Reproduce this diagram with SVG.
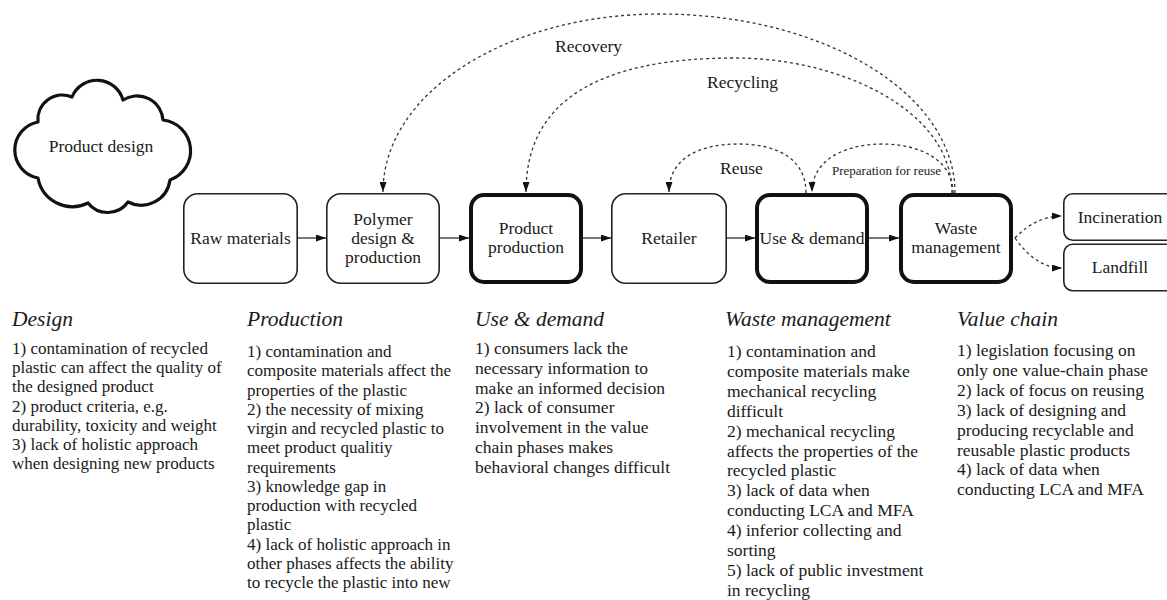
<svg xmlns="http://www.w3.org/2000/svg" width="1167" height="600" viewBox="0 0 1167 600" font-family="Liberation Serif">
<style>
  text { font-family: 'Liberation Serif', 'Times New Roman', serif; fill: #1a1a1a; }
  .lbl { font-size: 17.5px; text-anchor: middle; }
  .small { font-size: 13px; }
  .arclbl { font-size: 17.5px; }
  .title { font-size: 21.5px; font-style: italic; }
  .body { font-size: 17px; }
  .body2 { font-size: 17.5px; }
  .box { fill: #ffffff; stroke: #222; stroke-width: 1.6; }
  .thick { fill: #ffffff; stroke: #111; stroke-width: 4; }
  .flow { fill: none; stroke: #555; stroke-width: 1.6; }
  .dot { fill: none; stroke: #333; stroke-width: 1.3; stroke-dasharray: 3 3; }
</style>
<defs>
  <marker id="ah" viewBox="0 0 10 7" refX="10" refY="3.5" markerWidth="10" markerHeight="7" markerUnits="userSpaceOnUse" orient="auto">
    <path d="M0,0 L10,3.5 L0,7 z" fill="#111"/>
  </marker>
</defs>

<g id="product-design">
  <path d="M72,97 A27,27 0 0 1 123,100 A26,26 0 0 1 163,120 A31,31 0 0 1 170,180 A29,29 0 0 1 128,202 A25,25 0 0 1 88,203 A35,35 0 0 1 38,178 A28.5,28.5 0 0 1 38,122 A24.5,24.5 0 0 1 72,97 Z" fill="#fff" stroke="#111" stroke-width="3.2" stroke-linejoin="round"/>
  <text class="lbl" x="101" y="152">Product design</text>
</g>

<g id="connectors">
  <path class="flow" d="M298,238 L326,238" marker-end="url(#ah)"/>
  <path class="flow" d="M440,238 L469,238" marker-end="url(#ah)"/>
  <path class="flow" d="M583,238 L611,238" marker-end="url(#ah)"/>
  <path class="flow" d="M727,238 L755,238" marker-end="url(#ah)"/>
  <path class="flow" d="M869,238 L899,238" marker-end="url(#ah)"/>
  <path class="dot" d="M955,193 C955,93 823,14 660,14 C507,14 383,93 383,192" marker-end="url(#ah)"/>
  <path class="dot" d="M952,193 C952,110 840,58 735,58 C600,58 526,100 526,192" marker-end="url(#ah)"/>
  <path class="dot" d="M806,193 C806,158 776,144 738,144 C700,144 669,158 669,192" marker-end="url(#ah)"/>
  <path class="dot" d="M953,193 C953,160 920,144 882,144 C845,144 812,160 812,192" marker-end="url(#ah)"/>
  <path class="dot" d="M1015,238 Q1036,216 1062,216" marker-end="url(#ah)"/>
  <path class="dot" d="M1015,238 Q1036,268 1062,268" marker-end="url(#ah)"/>
  <text class="arclbl" x="555" y="52">Recovery</text>
  <text class="arclbl" x="707" y="88">Recycling</text>
  <text class="arclbl" x="720" y="174">Reuse</text>
  <text class="small" x="832" y="175">Preparation for reuse</text>
</g>

<g id="raw-materials">
  <rect class="box" x="183.8" y="193.8" width="113.4" height="89.4" rx="14"/>
  <text class="lbl" x="240.5" y="244">Raw materials</text>
</g>
<g id="polymer">
  <rect class="box" x="326.8" y="193.8" width="112.4" height="89.4" rx="14"/>
  <text class="lbl" x="383" y="225">Polymer</text>
  <text class="lbl" x="383" y="244">design &amp;</text>
  <text class="lbl" x="383" y="263">production</text>
</g>
<g id="product-production">
  <rect class="thick" x="471" y="195" width="110" height="87" rx="13"/>
  <text class="lbl" x="526" y="234">Product</text>
  <text class="lbl" x="526" y="253">production</text>
</g>
<g id="retailer">
  <rect class="box" x="611.8" y="193.8" width="114.4" height="89.4" rx="14"/>
  <text class="lbl" x="669" y="244">Retailer</text>
</g>
<g id="use-demand">
  <rect class="thick" x="757" y="195" width="110" height="87" rx="13"/>
  <text class="lbl" x="812" y="244">Use &amp; demand</text>
</g>
<g id="waste-management">
  <rect class="thick" x="901" y="195" width="110" height="87" rx="13"/>
  <text class="lbl" x="956" y="234">Waste</text>
  <text class="lbl" x="956" y="253">management</text>
</g>
<g id="incineration">
  <rect class="box" x="1063.8" y="193.8" width="130" height="46.4" rx="9"/>
  <text class="lbl" x="1120" y="223">Incineration</text>
</g>
<g id="landfill">
  <rect class="box" x="1063.8" y="244.3" width="130" height="46.4" rx="9"/>
  <text class="lbl" x="1120" y="273">Landfill</text>
</g>

<g id="design-notes">
  <text class="title" x="12" y="326">Design</text>
  <text class="body" x="12" y="354">
    <tspan x="12">1) contamination of recycled</tspan>
    <tspan x="12" dy="19.2">plastic can affect the quality of</tspan>
    <tspan x="12" dy="19.2">the designed product</tspan>
    <tspan x="12" dy="19.2">2) product criteria, e.g.</tspan>
    <tspan x="12" dy="19.2">durability, toxicity and weight</tspan>
    <tspan x="12" dy="19.2">3) lack of holistic approach</tspan>
    <tspan x="12" dy="19.2">when designing new products</tspan>
  </text>
</g>
<g id="production-notes">
  <text class="title" x="247" y="326">Production</text>
  <text class="body" x="247" y="357">
    <tspan x="247">1) contamination and</tspan>
    <tspan x="247" dy="19.25">composite materials affect the</tspan>
    <tspan x="247" dy="19.25">properties of the plastic</tspan>
    <tspan x="247" dy="19.25">2) the necessity of mixing</tspan>
    <tspan x="247" dy="19.25">virgin and recycled plastic to</tspan>
    <tspan x="247" dy="19.25">meet product qualitiy</tspan>
    <tspan x="247" dy="19.25">requirements</tspan>
    <tspan x="247" dy="19.25">3) knowledge gap in</tspan>
    <tspan x="247" dy="19.25">production with recycled</tspan>
    <tspan x="247" dy="19.25">plastic</tspan>
    <tspan x="247" dy="19.25">4) lack of holistic approach in</tspan>
    <tspan x="247" dy="19.25">other phases affects the ability</tspan>
    <tspan x="247" dy="19.25">to recycle the plastic into new</tspan>
  </text>
</g>
<g id="use-demand-notes">
  <text class="title" x="475" y="326">Use &amp; demand</text>
  <text class="body2" x="475" y="354">
    <tspan x="475">1) consumers lack the</tspan>
    <tspan x="475" dy="19.8">necessary information to</tspan>
    <tspan x="475" dy="19.8">make an informed decision</tspan>
    <tspan x="475" dy="19.8">2) lack of consumer</tspan>
    <tspan x="475" dy="19.8">involvement in the value</tspan>
    <tspan x="475" dy="19.8">chain phases makes</tspan>
    <tspan x="475" dy="19.8">behavioral changes difficult</tspan>
  </text>
</g>
<g id="waste-management-notes">
  <text class="title" x="725" y="326">Waste management</text>
  <text class="body2" x="727" y="357">
    <tspan x="727">1) contamination and</tspan>
    <tspan x="727" dy="19.9">composite materials make</tspan>
    <tspan x="727" dy="19.9">mechanical recycling</tspan>
    <tspan x="727" dy="19.9">difficult</tspan>
    <tspan x="727" dy="19.9">2) mechanical recycling</tspan>
    <tspan x="727" dy="19.9">affects the properties of the</tspan>
    <tspan x="727" dy="19.9">recycled plastic</tspan>
    <tspan x="727" dy="19.9">3) lack of data when</tspan>
    <tspan x="727" dy="19.9">conducting LCA and MFA</tspan>
    <tspan x="727" dy="19.9">4) inferior collecting and</tspan>
    <tspan x="727" dy="19.9">sorting</tspan>
    <tspan x="727" dy="19.9">5) lack of public investment</tspan>
    <tspan x="727" dy="19.9">in recycling</tspan>
  </text>
</g>
<g id="value-chain-notes">
  <text class="title" x="957" y="326">Value chain</text>
  <text class="body2" x="957" y="356">
    <tspan x="957">1) legislation focusing on</tspan>
    <tspan x="957" dy="19.9">only one value-chain phase</tspan>
    <tspan x="957" dy="19.9">2) lack of focus on reusing</tspan>
    <tspan x="957" dy="19.9">3) lack of designing and</tspan>
    <tspan x="957" dy="19.9">producing recyclable and</tspan>
    <tspan x="957" dy="19.9">reusable plastic products</tspan>
    <tspan x="957" dy="19.9">4) lack of data when</tspan>
    <tspan x="957" dy="19.9">conducting LCA and MFA</tspan>
  </text>
</g>
</svg>
